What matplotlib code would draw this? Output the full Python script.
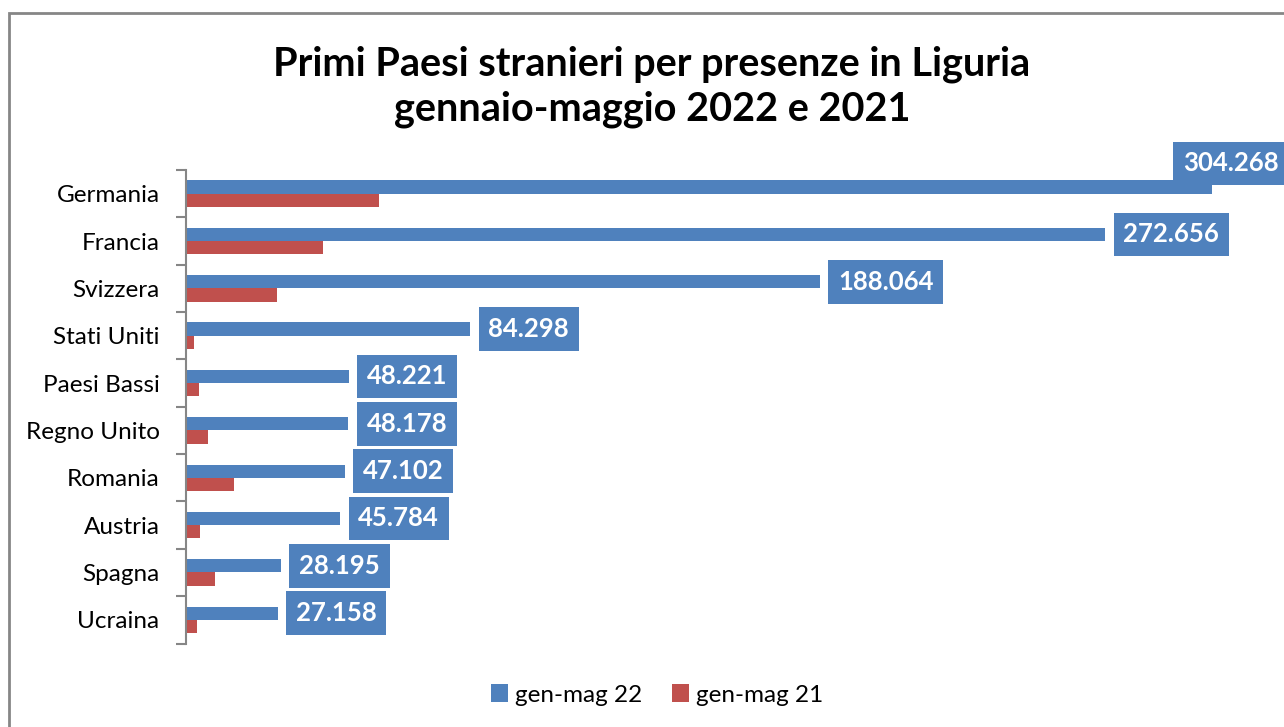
import matplotlib.pyplot as plt
import numpy as np
from matplotlib.patches import Rectangle

plt.rcParams['font.family'] = ['Lato', 'DejaVu Sans']

countries = ['Germania', 'Francia', 'Svizzera', 'Stati Uniti', 'Paesi Bassi',
             'Regno Unito', 'Romania', 'Austria', 'Spagna', 'Ucraina']
gen_mag_22 = [304268, 272656, 188064, 84298, 48221, 48178, 47102, 45784, 28195, 27158]
gen_mag_21 = [57300, 40700, 26900, 2500, 3900, 6500, 14100, 4200, 8500, 3200]

BLUE = '#4f81bd'
RED = '#c0504d'
GRAY = '#868686'


def fmt_it(v):
  return f'{v:,}'.replace(',', '.')


fig = plt.figure(figsize=(12.84, 7.27), dpi=100)
fig.patches.append(Rectangle((9 / 1284, -0.1), 1.2, (727 - 13) / 727 + 0.1,
                             transform=fig.transFigure, fill=False,
                             edgecolor=GRAY, linewidth=2, zorder=0))

# axes: left at x=186 px, y from 170 to 643 px
ax = fig.add_axes([186 / 1284, (727 - 643.5) / 727, (1265 - 186) / 1284, 473.5 / 727])

y = np.arange(len(countries))
h = 0.28
ax.barh(y - h / 2, gen_mag_22, height=h, color=BLUE, label='gen-mag 22')
ax.barh(y + h / 2, gen_mag_21, height=h, color=RED, label='gen-mag 21')

ax.set_xlim(0, 320000)
ax.set_ylim(len(countries) - 0.5, -0.5)

for i, v in enumerate(gen_mag_22):
  if i == 0:
    # no room on the right: label sits above the bar end
    xy_off, ha = (48, 17), 'right'
  else:
    xy_off, ha = (13, 0), 'left'
  ax.annotate(fmt_it(v), (v, i - h / 2), xytext=xy_off, textcoords='offset points',
              ha=ha, va='center', color='white', fontsize=18.5, fontweight='bold',
              bbox=dict(boxstyle='square,pad=0.38', facecolor=BLUE, edgecolor='none'),
              annotation_clip=False)

ax.set_yticks(y)
ax.set_yticklabels(countries, fontsize=17.5)
ax.tick_params(axis='y', which='major', length=0, pad=19)
ax.set_yticks(np.arange(len(countries) + 1) - 0.5, minor=True)
ax.tick_params(axis='y', which='minor', length=7, width=1.5, color=GRAY, direction='out')
ax.set_xticks([])
for side in ['top', 'right', 'bottom']:
  ax.spines[side].set_visible(False)
ax.spines['left'].set_color(GRAY)
ax.spines['left'].set_linewidth(1.5)

fig.text(652 / 1284, 1 - 87 / 727,
         'Primi Paesi stranieri per presenze in Liguria\ngennaio-maggio 2022 e 2021',
         ha='center', va='center', fontsize=28.5, fontweight='bold', linespacing=1.25)

fig.legend(loc='center', bbox_to_anchor=(657 / 1284, 1 - 695 / 727), ncol=2,
           frameon=False, fontsize=17.5, handlelength=0.7, handleheight=0.7,
           handletextpad=0.3, columnspacing=1.2)

fig.savefig('out.png', dpi=100)
